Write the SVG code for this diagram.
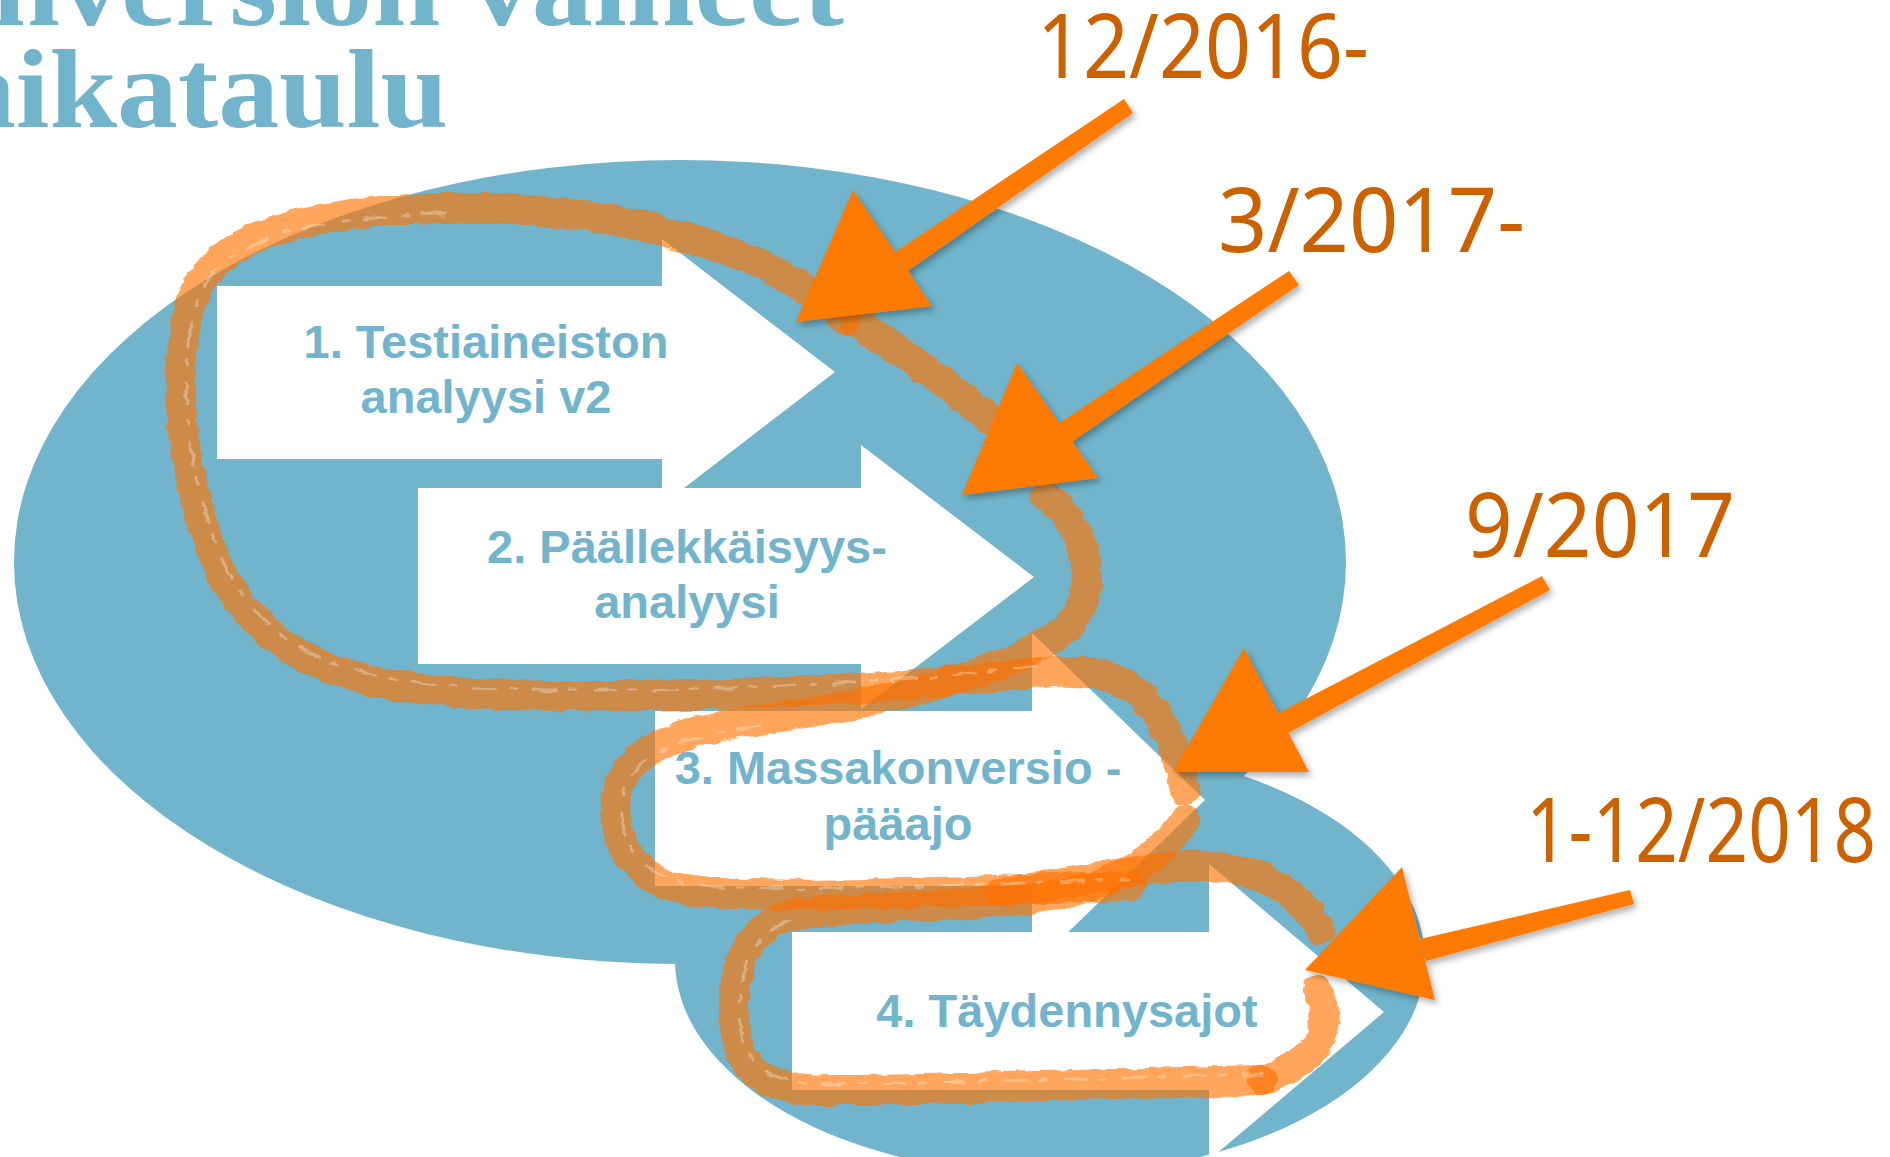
<svg xmlns="http://www.w3.org/2000/svg" width="1890" height="1157" viewBox="0 0 1890 1157">
<style>
.bg{fill:#71B4CB}
.blk{fill:#ffffff}
.lbl{font-family:"Liberation Sans",Arial,sans-serif;font-weight:bold;font-size:47px;fill:#71B4CB;text-anchor:middle}
.ttl{font-family:"Liberation Serif","Times New Roman",serif;font-weight:bold;font-size:112px;fill:#71B4CB}
.date{font-family:"Noto Sans","DejaVu Sans",sans-serif;font-size:90px;fill:#CC6100}
.coil{fill:none;stroke:#FF7200;stroke-opacity:0.64;stroke-width:30;stroke-linecap:round;stroke-linejoin:round}
.streak{fill:none;stroke:#ffffff;stroke-opacity:0.3;stroke-width:3;stroke-dasharray:22 14 6 18;stroke-linecap:round}
.head{fill:#FF7A00}
.shaft{fill:#FF7A00}
</style>
<defs>
<filter id="sh" x="-20%" y="-20%" width="140%" height="140%">
<feDropShadow dx="3" dy="4" stdDeviation="3" flood-color="#000" flood-opacity="0.3"/>
</filter>
<filter id="rough" x="-5%" y="-5%" width="110%" height="110%">
<feTurbulence type="fractalNoise" baseFrequency="0.05 0.12" numOctaves="2" seed="3" result="n"/>
<feDisplacementMap in="SourceGraphic" in2="n" scale="7" xChannelSelector="R" yChannelSelector="G"/>
</filter>
</defs>
<rect width="1890" height="1157" fill="#ffffff"/>
<g id="title">
<text class="ttl" x="-8" y="25" textLength="852" lengthAdjust="spacingAndGlyphs">nversion vaiheet</text>
<text class="ttl" x="-45" y="127" textLength="493" lengthAdjust="spacingAndGlyphs">aikataulu</text>
</g>
<g id="background">
<ellipse class="bg" cx="1050" cy="960" rx="375" ry="215"/>
<ellipse class="bg" cx="680" cy="562" rx="666" ry="402"/>
</g>
<g id="step1">
<polygon class="blk" points="217,286 662,286 662,239 835,372 662,505 662,459 217,459"/>
<text class="lbl" x="486" y="358">1. Testiaineiston</text>
<text class="lbl" x="486" y="413">analyysi v2</text>
</g>
<g id="step2">
<polygon class="blk" points="418,488 861,488 861,445 1034,577 861,709 861,664 418,664"/>
<text class="lbl" x="687" y="563">2. Päällekkäisyys-</text>
<text class="lbl" x="687" y="618">analyysi</text>
</g>
<g id="step3">
<polygon class="blk" points="655,711 1032,711 1032,633 1205,800 1032,967 1032,886 655,886"/>
<text class="lbl" x="898" y="784">3. Massakonversio -</text>
<text class="lbl" x="898" y="840">pääajo</text>
</g>
<g id="step4">
<polygon class="blk" points="792,932 1209,932 1209,864 1384,1012 1209,1160 1209,1090 792,1090"/>
<text class="lbl" x="1067" y="1027">4. Täydennysajot</text>
</g>
<g id="connectors">
<g filter="url(#rough)">
<path class="coil" d="M845,320 C760,240 600,205 440,208 C300,212 215,235 192,300 C170,370 180,480 220,570 C265,660 350,690 500,695 C700,700 900,688 1040,672 C1120,664 1165,690 1185,790"/>
<path class="coil" d="M855,322 C900,350 950,385 990,420"/>
<path class="coil" d="M1045,495 C1090,530 1100,590 1070,625 C1020,670 900,700 760,720 C660,732 620,760 616,800 C612,850 640,885 700,892 C820,900 1000,888 1130,886"/>
<path class="coil" d="M1185,820 C1160,860 1120,880 1060,895 C950,910 850,905 790,915 C740,930 730,980 735,1030 C740,1075 770,1090 830,1090 C950,1090 1150,1082 1262,1080"/>
<path class="coil" d="M1000,892 C1100,880 1160,862 1210,866 C1260,870 1300,890 1320,930"/>
<path class="coil" d="M1318,990 C1335,1030 1320,1060 1262,1080"/>
<path class="streak" d="M445,214 C300,218 220,240 198,300 C176,370 186,480 226,566 C270,655 350,684 500,689 C700,694 900,682 1040,666"/>
<path class="streak" d="M760,726 C660,738 626,764 622,800 C618,848 646,880 700,886 C820,894 1000,882 1130,880"/>
<path class="streak" d="M790,921 C746,936 736,980 741,1030 C746,1070 774,1084 830,1084 C950,1084 1150,1076 1262,1074"/>
</g>
<g filter="url(#sh)">
<polygon class="shaft" points="891,255 905,273 1133,113 1124,99"/>
<polygon class="head" points="853,190 796,322 932,306"/>
<polygon class="shaft" points="1055,426 1069,444 1299,285 1289,271"/>
<polygon class="head" points="1017,363 962,495 1098,478"/>
<polygon class="shaft" points="1271,717 1281,737 1550,590 1542,576"/>
<polygon class="head" points="1244,648 1173,772 1309,772"/>
<polygon class="shaft" points="1420,939 1426,961 1634,904 1630,890"/>
<polygon class="head" points="1402,867 1305,970 1435,1000"/>
</g>
</g>
<g id="dates">
<text class="date" x="1037" y="78" textLength="332" lengthAdjust="spacingAndGlyphs">12/2016-</text>
<text class="date" x="1218" y="252" textLength="307" lengthAdjust="spacingAndGlyphs">3/2017-</text>
<text class="date" x="1465" y="557" textLength="270" lengthAdjust="spacingAndGlyphs">9/2017</text>
<text class="date" x="1526" y="862" textLength="350" lengthAdjust="spacingAndGlyphs">1-12/2018</text>
</g>
</svg>
